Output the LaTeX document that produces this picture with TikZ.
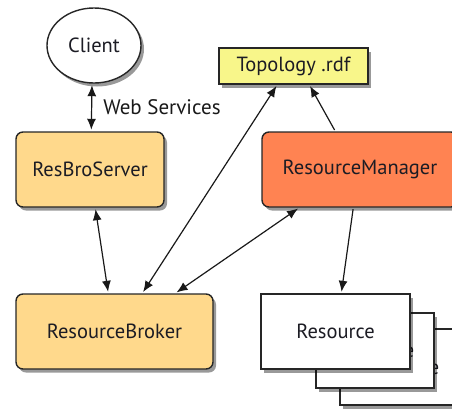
\documentclass[tikz,border=0pt]{standalone}
\usepackage{fontspec}
\setmainfont{PT Sans}
\usetikzlibrary{shapes.geometric,shadows,arrows.meta}
\definecolor{boxorange}{HTML}{FFD98C}
\definecolor{mgrred}{HTML}{FF8352}
\definecolor{topoyellow}{HTML}{F8F68A}
\definecolor{txt}{HTML}{1C1C24}
\begin{document}
\begin{tikzpicture}[x=1pt,y=1pt,
  font=\fontsize{20.5}{24}\selectfont, text=txt,
  shad/.style={drop shadow={shadow xshift=3pt,shadow yshift=-3.5pt,opacity=0.4,fill=black}},
  rbox/.style={draw=black!85,line width=1.4pt,rounded corners=7pt,inner sep=0pt,shad},
  sbox/.style={draw=black!85,line width=1.4pt,inner sep=0pt,shad},
  conn/.style={line width=1.2pt,black!90,shorten >=1.5pt,shorten <=1.5pt},
  tip/.tip={Latex[length=11pt,width=9pt]}
]
\useasboundingbox (0,0) rectangle (452,-408);
% nodes
\node[ellipse,draw=black!85,line width=1.4pt,fill=white,minimum width=94,minimum height=75,inner sep=0pt,shad] (client) at (94,-45.5) {Client};
\node[sbox,fill=topoyellow,minimum width=149,minimum height=36] (topo) at (293.5,-66) {Topology .rdf};
\node[rbox,fill=boxorange,minimum width=148,minimum height=75] (rbs) at (90,-169.5) {ResBroServer};
\node[rbox,fill=mgrred,minimum width=196,minimum height=75] (rm) at (360,-169.5) {ResourceManager};
\node[rbox,fill=boxorange,minimum width=197,minimum height=75] (rb) at (114.5,-331.5) {ResourceBroker};
\node[sbox,fill=white,minimum width=120,minimum height=76] (res3) at (400,-367) {Resource};
\node[sbox,fill=white,minimum width=118,minimum height=75] (res2) at (375,-350.5) {Resource};
\node[sbox,fill=white,minimum width=149,minimum height=75] (res) at (335.5,-331.5) {Resource};
% connectors
\draw[conn,tip-tip] ([xshift=-2pt]client.south) -- ([xshift=76pt]rbs.north west)
  node[midway,right=11pt,inner sep=0pt,font=\fontsize{21}{24}\selectfont] (ws) {Web Services};
\draw[conn,tip-tip] ([xshift=80pt]rbs.south west) -- ([xshift=93pt]rb.north west);
\draw[conn,tip-tip] ([xshift=127pt]rb.north west) -- ([xshift=59pt]topo.south west);
\draw[conn,tip-tip] ([xshift=160pt]rb.north west) -- ([xshift=38pt]rm.south west);
\draw[conn,-tip] ([xshift=74pt]rm.north west) -- ([xshift=91pt]topo.south west);
\draw[conn,-tip] ([xshift=92pt]rm.south west) -- ([xshift=81pt]res.north west);
\end{tikzpicture}
\end{document}
